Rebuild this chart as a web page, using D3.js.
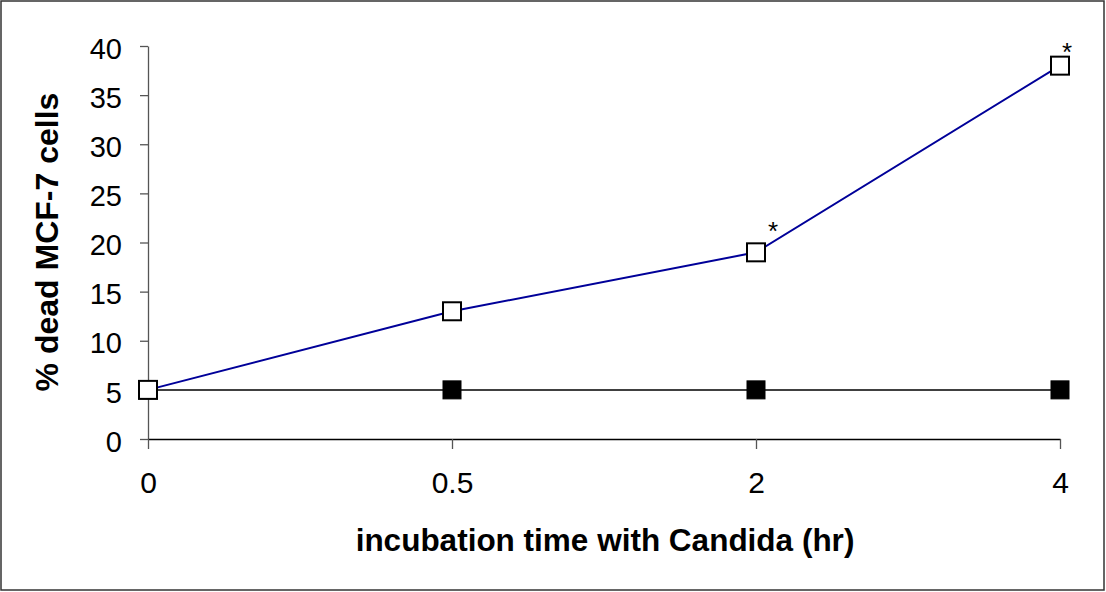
<!DOCTYPE html>
<html><head><meta charset="utf-8">
<script src="https://cdn.jsdelivr.net/npm/d3@7"></script>
<style>body{margin:0;background:#fff}svg{display:block}</style>
</head><body>
<svg id="c" width="1106" height="592"></svg>
<script>
const categories = ["0", "0.5", "2", "4"];
const candidaValues = [5, 13, 19, 38];
const controlValues = [5, 5, 5, 5];
const significant = [false, false, true, true];
const yTicks = [0, 5, 10, 15, 20, 25, 30, 35, 40];

const svg = d3.select("#c");
const font = "'Liberation Sans', Arial, sans-serif";
svg.append("rect").attr("x",1).attr("y",1).attr("width",1103).attr("height",589)
  .attr("fill","#fff").attr("stroke","#333").attr("stroke-width",1.5);

const x = d3.scalePoint().domain(categories).range([148, 1060]);
const y = d3.scaleLinear().domain([0, 40]).range([439, 46]);

// y axis
const ya = svg.append("g").attr("transform","translate(148,0)")
  .call(d3.axisLeft(y).tickValues(yTicks).tickSize(8).tickPadding(18).tickSizeOuter(0));
ya.select(".domain").attr("stroke","#555").attr("stroke-width",1.3);
ya.selectAll(".tick line").attr("stroke","#555").attr("stroke-width",1.3);
ya.selectAll("text").attr("font-family",font).attr("font-size",29).attr("fill","#000").attr("dy","0.42em");

// x axis
const xa = svg.append("g").attr("transform","translate(0,439)")
  .call(d3.axisBottom(x).tickSize(10).tickPadding(23).tickSizeOuter(0));
xa.select(".domain").attr("stroke","#000").attr("stroke-width",1.3);
xa.selectAll(".tick line").attr("stroke","#555").attr("stroke-width",1.3);
xa.selectAll("text").attr("font-family",font).attr("font-size",30).attr("fill","#000");

// lines
const line = d3.line().x((d,i)=>x(categories[i])).y(d=>y(d));
svg.append("path").datum(controlValues).attr("d",line).attr("fill","none")
  .attr("stroke","#000").attr("stroke-width",1.5);
svg.append("path").datum(candidaValues).attr("d",line).attr("fill","none")
  .attr("stroke","#000099").attr("stroke-width",2);

const s = 18;
svg.selectAll(".ctl").data(controlValues).enter().append("rect")
  .attr("x",(d,i)=>x(categories[i])-s/2).attr("y",d=>y(d)-s/2)
  .attr("width",s).attr("height",s).attr("fill","#000").attr("stroke","#000").attr("stroke-width",1);
svg.selectAll(".cand").data(candidaValues).enter().append("rect")
  .attr("x",(d,i)=>x(categories[i])-s/2).attr("y",d=>y(d)-s/2)
  .attr("width",s).attr("height",s).attr("fill","#fff").attr("stroke","#000").attr("stroke-width",2);

// significance markers (label offsets relative to the point)
const starDx = [0, 0, 17, 7];
const starDy = [0, 0, -27, -20];
svg.selectAll(".sig").data(candidaValues.map((v,i)=>({v,i})).filter(d=>significant[d.i])).enter()
  .append("text").attr("x",d=>x(categories[d.i])+starDx[d.i]).attr("y",d=>y(d.v)+starDy[d.i]+15)
  .attr("text-anchor","middle").attr("font-family",font).attr("font-size",26).attr("fill","#000").text("*");

// titles
svg.append("text").attr("x",605).attr("y",551).attr("text-anchor","middle")
  .attr("font-family",font).attr("font-weight","bold").attr("font-size",31.5).text("incubation time with Candida (hr)");
svg.append("text").attr("transform","translate(58,242) rotate(-90)").attr("text-anchor","middle")
  .attr("font-family",font).attr("font-weight","bold").attr("font-size",32).text("% dead MCF-7 cells");
</script>
</body></html>
